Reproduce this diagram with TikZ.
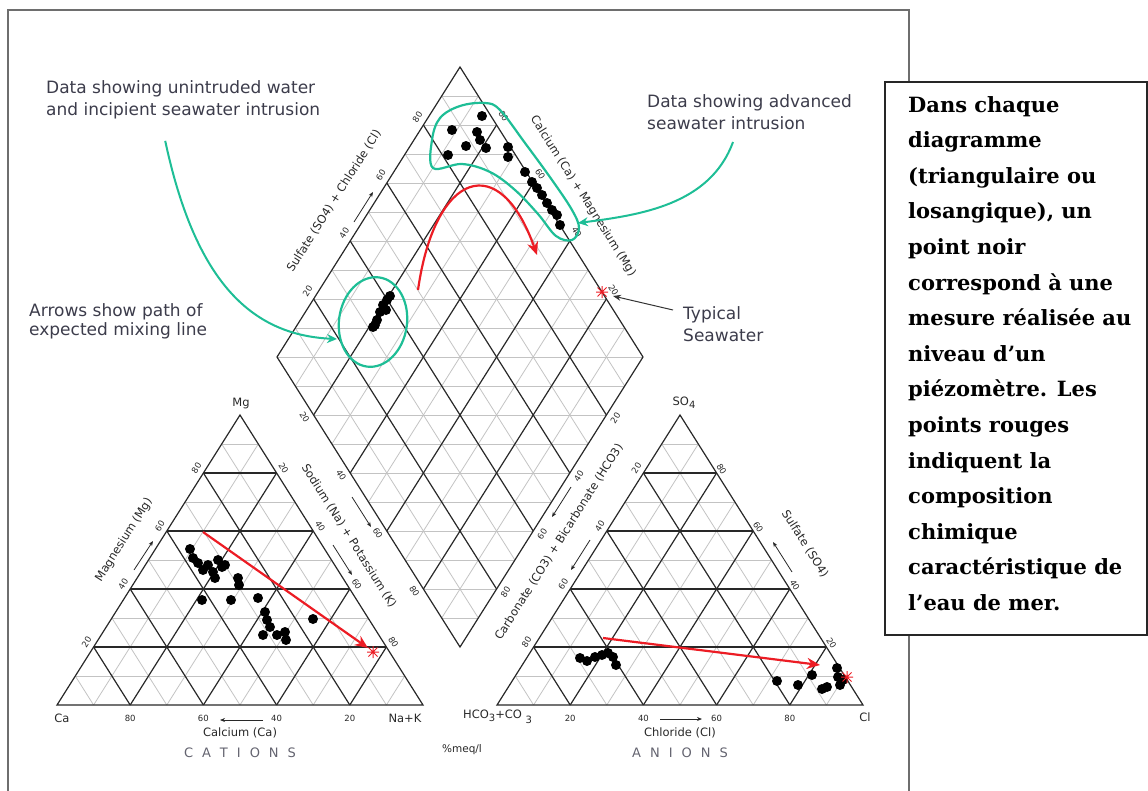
\documentclass[tikz,border=0pt]{standalone}
\usepackage{fontspec}
\setsansfont{DejaVu Sans}
\newfontfamily\notefont{DejaVu Serif}
\usetikzlibrary{arrows.meta,shapes.geometric,calc}

\definecolor{gridgray}{RGB}{195,195,195}
\definecolor{griddark}{RGB}{40,40,40}
\definecolor{mixred}{RGB}{236,28,36}
\definecolor{groupgreen}{RGB}{30,190,150}
\definecolor{notegray}{RGB}{60,60,75}
\definecolor{framegray}{RGB}{110,110,110}

\newcommand\gap{\hskip 9pt\relax}

\tikzset{
  thin grid/.style={gridgray, line width=0.8pt},
  main grid/.style={griddark, line width=1.2pt},
  tick/.style={font=\sffamily\fontsize{8.5}{9}\selectfont, text=griddark, inner sep=0pt},
  axis title/.style={font=\sffamily\fontsize{11.5}{12}\selectfont, text=griddark, inner sep=0pt},
  group title/.style={font=\sffamily\fontsize{13}{14}\selectfont, text=notegray!80, inner sep=0pt},
  note/.style={font=\sffamily\fontsize{17}{22}\selectfont, text=notegray, align=left,
    inner sep=0pt, anchor=north west},
  notebox/.style={draw=black!85, fill=white, line width=1.6pt, anchor=north west,
    minimum width=262pt, minimum height=553pt, inner sep=0pt},
  remark text/.style={align=left, anchor=north west, inner sep=0pt,
    font=\notefont\bfseries\fontsize{21}{35.6}\selectfont},
  mixing/.style={mixred, line width=2.2pt, -{Stealth[length=13pt,width=11pt]}},
  pointer/.style={groupgreen, line width=2pt, -{Stealth[length=10pt,width=9pt]}},
  group/.style={groupgreen, line width=2.2pt},
  leader/.style={black!80, line width=1pt, -{Stealth[length=8pt,width=6pt]}},
  axis arrow/.style={griddark, line width=0.8pt, -{Stealth[length=5pt,width=4pt]}},
  sample/.style={fill=black},
  seastar/.pic={
    \draw[mixred, line width=1pt] (-6,0)--(6,0) (0,-6)--(0,6)
      (-4.5,-4.5)--(4.5,4.5) (-4.5,4.5)--(4.5,-4.5);
  }
}

% ternary grid, #1,#2 = lower left corner
\newcommand\pipertri[2]{%
  \foreach \k in {1,3,5,7,9}{
    \draw[thin grid] ({#1+18.3*\k},{#2-29*\k}) -- ({#1+366-18.3*\k},{#2-29*\k});
    \draw[thin grid] ({#1+36.6*\k},#2) -- ({#1+183+18.3*\k},{#2-290+29*\k});
    \draw[thin grid] ({#1+36.6*\k},#2) -- ({#1+18.3*\k},{#2-29*\k});
  }
  \foreach \k in {2,4,6,8}{
    \draw[main grid] ({#1+18.3*\k},{#2-29*\k}) -- ({#1+366-18.3*\k},{#2-29*\k});
    \draw[main grid] ({#1+36.6*\k},#2) -- ({#1+183+18.3*\k},{#2-290+29*\k});
    \draw[main grid] ({#1+36.6*\k},#2) -- ({#1+18.3*\k},{#2-29*\k});
  }
  \draw[main grid] (#1,#2) -- ({#1+366},#2) -- ({#1+183},{#2-290}) -- cycle;
}

% diamond, bottom corner at (460,647)
\newcommand\piperdiamond{%
  \foreach \k in {1,3,5,7,9}{
    \draw[thin grid] ({460+18.3*\k},{647-29*\k}) -- ({277+18.3*\k},{357-29*\k});
    \draw[thin grid] ({460-18.3*\k},{647-29*\k}) -- ({643-18.3*\k},{357-29*\k});
  }
  \foreach \k in {1,...,19}{
    \pgfmathsetmacro\w{18.3*min(\k,20-\k)}
    \draw[thin grid] ({460-\w},{647-29*\k}) -- ({460+\w},{647-29*\k});
  }
  \foreach \k in {2,4,6,8}{
    \draw[main grid] ({460+18.3*\k},{647-29*\k}) -- ({277+18.3*\k},{357-29*\k});
    \draw[main grid] ({460-18.3*\k},{647-29*\k}) -- ({643-18.3*\k},{357-29*\k});
  }
  \draw[main grid] (460,647) -- (277,357) -- (460,67) -- (643,357) -- cycle;
}

\begin{document}
\begin{tikzpicture}[x=1pt, y=-1pt]
  \useasboundingbox (0,0) rectangle (1148,790);
  \draw[framegray, line width=1.8pt] (8,10) rectangle (909,812);

  \pipertri{57}{705}
  \pipertri{497}{705}
  \piperdiamond

  % scale values
  \foreach \v in {20,40,60,80}{
    \node[tick, rotate=57.75] (cat_l\v) at ({50+1.83*\v},{700-2.9*\v}) {\v};
    \node[tick, rotate=-57.75] (cat_r\v) at ({247+1.83*\v},{410+2.9*\v}) {\v};
    \node[tick] (cat_b\v) at ({423-3.66*\v},718) {\v};
    \node[tick, rotate=57.75] (an_l\v) at ({673-1.83*\v},{410+2.9*\v}) {\v};
    \node[tick, rotate=-57.75] (an_r\v) at ({868-1.83*\v},{701-2.9*\v}) {\v};
    \node[tick] (an_b\v) at ({497+3.66*\v},718) {\v};
    \node[tick, rotate=57.75] (dia_ul\v) at ({271+1.83*\v},{349-2.9*\v}) {\v};
    \node[tick, rotate=-57.75] (dia_ur\v) at ({650-1.83*\v},{348-2.9*\v}) {\v};
    \node[tick, rotate=-57.75] (dia_ll\v) at ({268+1.83*\v},{359+2.9*\v}) {\v};
    \node[tick, rotate=57.75] (dia_lr\v) at ({652-1.83*\v},{360+2.9*\v}) {\v};
  }

  % corners and axis names
  \node[axis title] (mg_corner) at (241,403) {Mg};
  \node[axis title] (ca_corner) at (62,718) {Ca};
  \node[axis title] (nak_corner) at (405,718) {Na+K};
  \node[axis title] (so4_corner) at (684,403) {SO\raisebox{-3pt}{\fontsize{10}{10}\selectfont 4}};
  \node[axis title, anchor=west] (hco3_corner) at (463,717)
    {HCO\raisebox{-3pt}{\fontsize{10}{10}\selectfont 3}+CO\,\raisebox{-5pt}{\fontsize{10}{10}\selectfont\,3}};
  \node[axis title] (cl_corner) at (865,717) {Cl};
  \node[axis title] (calcium_title) at (240,733) {Calcium (Ca)};
  \node[axis title] (chloride_title) at (680,733) {Chloride (Cl)};
  \node[axis title, font=\sffamily\fontsize{10.5}{11}\selectfont] (meq_title) at (462,750) {\%meq/l};
  \node[group title] (cations_title) at (240,753) {C\gap A\gap T\gap I\gap O\gap N\gap S};
  \node[group title] (anions_title) at (680,753) {A\gap N\gap I\gap O\gap N\gap S};
  \node[axis title, rotate=57.75] (mg_title) at (124,540) {Magnesium (Mg)};
  \node[axis title, rotate=-57.75] (nak_title) at (349,536) {Sodium (Na) + Potassium (K)};
  \node[axis title, rotate=57.75] (so4cl_title) at (334,201) {Sulfate (SO4) + Chloride (Cl)};
  \node[axis title, rotate=-57.75] (camg_title) at (583,196) {Calcium (Ca) + Magnesium (Mg)};
  \node[axis title, rotate=57.75] (hco3_title) at (559,542) {Carbonate (CO3) + Bicarbonate (HCO3)};
  \node[axis title, rotate=-57.75] (so4_title) at (805,544) {Sulfate (SO4)};

  \draw[axis arrow] (263,720) -- (220,720);
  \draw[axis arrow] (660,719) -- (702,719);
  \draw[axis arrow] (134,570) -- (153,541);
  \draw[axis arrow] (354,222) -- (373,192);
  \draw[axis arrow] (352,497) -- (371,527);
  \draw[axis arrow] (333,545) -- (352,575);
  \draw[axis arrow] (571,487) -- (552,517);
  \draw[axis arrow] (590,540) -- (571,570);
  \draw[axis arrow] (792,572) -- (773,542);

  % samples
  \foreach \p in {(190,549),(193,558),(198,563),(203,570),(208,565),(213,572),(218,560),
    (222,567),(225,565),(215,578),(238,578),(239,585),(202,600),(231,600),(258,598),
    (265,612),(267,620),(263,635),(270,627),(277,635),(285,632),(286,640),(313,619)}
    \fill[sample] \p circle[radius=5pt];
  \foreach \p in {(580,658),(587,661),(595,657),(602,655),(608,653),(613,657),(616,665),
    (777,681),(798,685),(812,675),(822,689),(827,687),(837,668),(838,677),(843,680),(840,685)}
    \fill[sample] \p circle[radius=5pt];
  \foreach \p in {(452,130),(448,155),(466,146),(477,132),(482,116),(480,140),(486,148),
    (508,147),(508,157),(525,172),(532,182),(537,188),(542,195),(547,203),(552,210),
    (557,215),(560,225),(373,327),(377,320),(380,312),(383,305),(387,300),(390,296),
    (386,310),(375,325)}
    \fill[sample] \p circle[radius=5pt];

  % sea water
  \pic at (373,652) {seastar};
  \pic at (847,677) {seastar};
  \pic at (602,292) {seastar};

  % mixing lines
  \coordinate (cat_fresh) at (203,532);
  \coordinate (cat_sea) at (368,648);
  \coordinate (an_fresh) at (603,638);
  \coordinate (an_sea) at (820,665);
  \coordinate (dia_fresh) at (418,290);
  \coordinate (dia_sea) at (537,255);
  \draw[mixing] (cat_fresh) -- (cat_sea);
  \draw[mixing] (an_fresh) -- (an_sea);
  \draw[mixing] (dia_fresh) .. controls (435,170) and (500,150) .. (dia_sea);

  % groups
  \node[draw=groupgreen, ellipse, line width=2.2pt, minimum width=68pt,
    minimum height=90pt, rotate=-8] (early_ring) at (373,322) {};
  \draw[group] plot[smooth cycle, tension=0.6] coordinates {(433,168) (432,140)
    (440,118) (460,106) (485,103) (500,110) (525,143) (552,180) (572,210) (579,228)
    (572,240) (556,236) (538,214) (515,190) (490,172) (462,164)};

  % notes
  \node[note] (unintruded_label) at (46,80)
    {Data showing unintruded water\\and incipient seawater intrusion};
  \node[note, font=\sffamily\fontsize{17}{19.5}\selectfont] (mixing_label) at (29,303)
    {Arrows show path of\\expected mixing line};
  \node[note] (advanced_label) at (647,94) {Data showing advanced\\seawater intrusion};
  \node[note] (seawater_label) at (683,306) {Typical\\Seawater};

  \coordinate (early_tip) at (337,339);
  \coordinate (advanced_tail) at (733,142);
  \coordinate (advanced_tip) at (578,223);
  \coordinate (seawater_point) at (613,296);
  \draw[pointer] ([xshift=-18pt,yshift=-22pt]unintruded_label.south)
    .. controls (195,280) and (250,335) .. (early_tip);
  \draw[pointer] (advanced_tail) .. controls (710,205) and (640,215) .. (advanced_tip);
  \draw[leader] ([xshift=-10pt,yshift=-4pt]seawater_label.north west) -- (seawater_point);

  \node[notebox] (remark_box) at (884,81) {};
  \node[remark text] (remark) at (908,96) {Dans chaque\\diagramme\\(triangulaire ou\\
    losangique), un\\point noir\\correspond à une\\mesure réalisée au\\niveau d’un\\
    piézomètre. Les\\points rouges\\indiquent la\\composition\\chimique\\
    caractéristique de\\l’eau de mer.};
\end{tikzpicture}
\end{document}
